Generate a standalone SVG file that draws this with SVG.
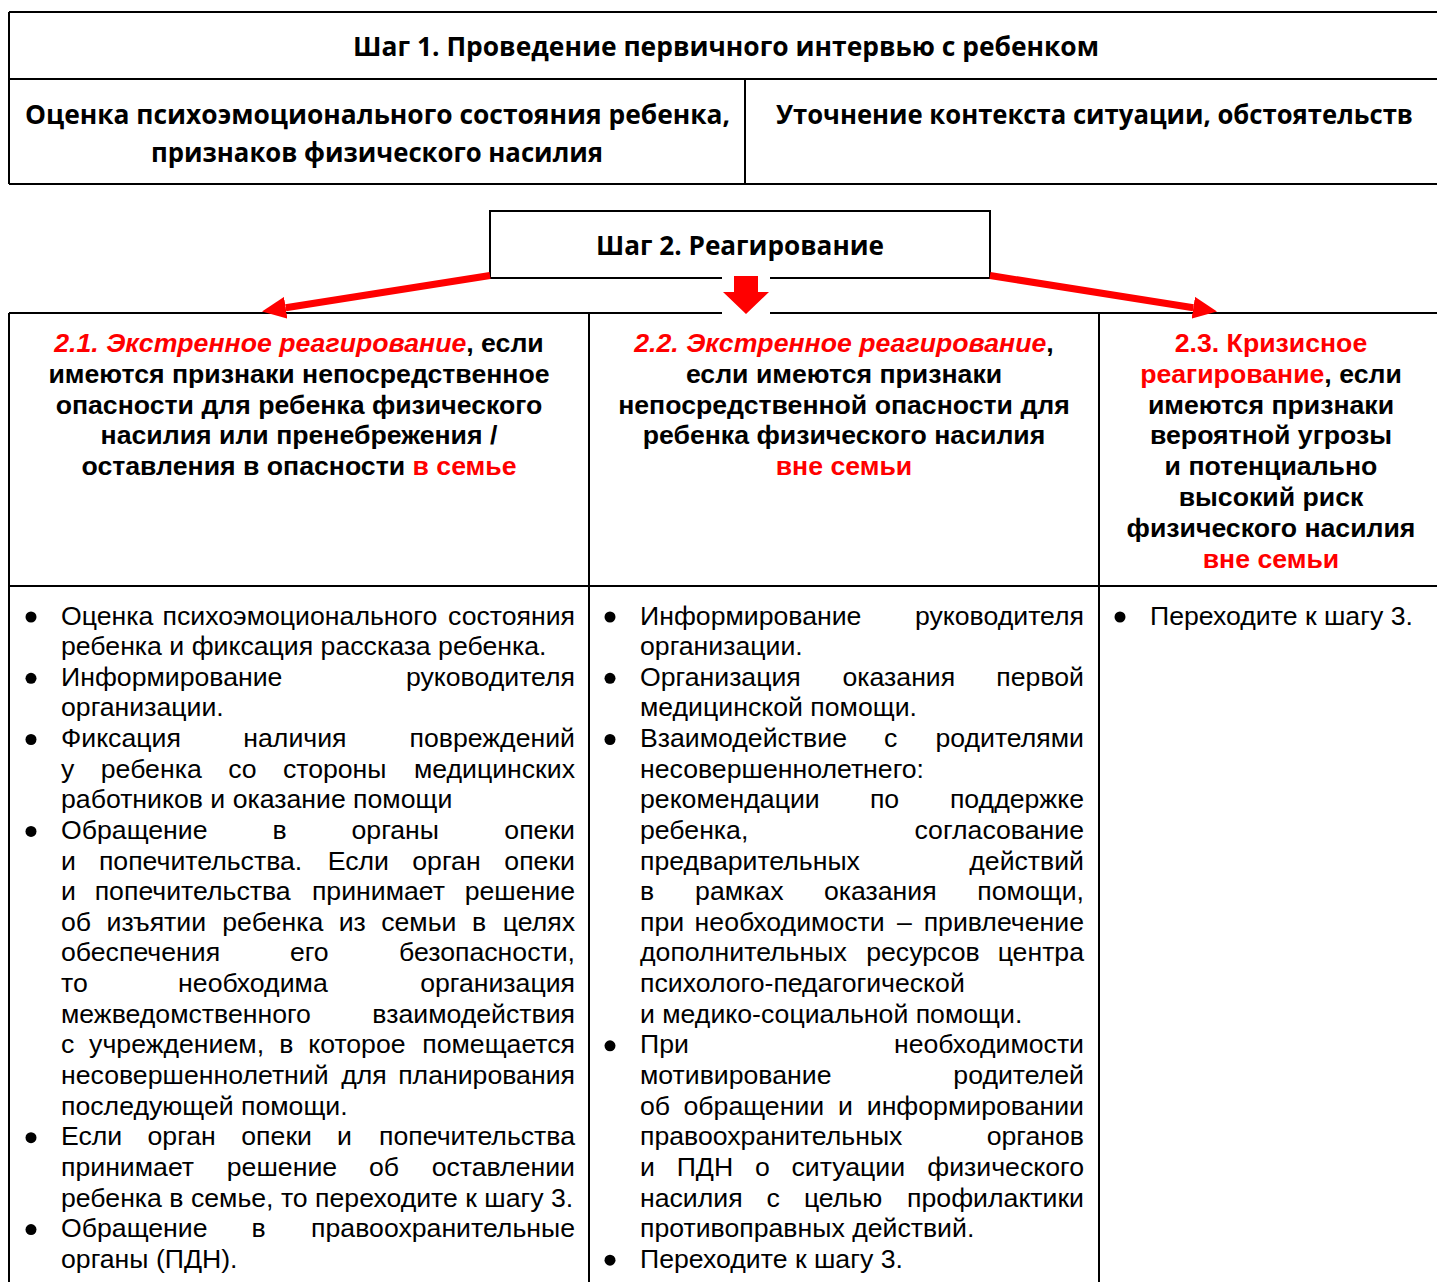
<svg xmlns="http://www.w3.org/2000/svg" width="1437" height="1282" viewBox="0 0 1437 1282">
<defs>
<style>
.ln{stroke:#000;stroke-width:2;fill:none}
.bx{stroke:#000;stroke-width:2;fill:#fff}
.t1{font-family:"Open Sans","Liberation Sans",sans-serif;font-weight:700;font-size:26px;fill:#000;text-anchor:middle}
.hd{font-family:"Liberation Sans",Arial,sans-serif;font-weight:700;font-size:26.67px;fill:#000;text-anchor:middle}
.r{fill:#ff0000}
.i{font-style:italic}
.b{font-family:"Liberation Sans",Arial,sans-serif;font-size:26.67px;fill:#000}
.e{text-anchor:end}
.dot{fill:#000}
.arr{stroke:#ff0000;stroke-width:7;fill:none}
</style>
<marker id="head" markerUnits="userSpaceOnUse" markerWidth="24" markerHeight="22" viewBox="0 0 24 22" refX="0" refY="11" orient="auto">
<path d="M0,0 L24,11 L0,22 z" fill="#ff0000"/>
</marker>
</defs>
<rect width="1437" height="1282" fill="#fff"/>

<g id="step1">
<path class="ln" d="M9,12 H1440 M9,79 H1440 M9,184 H1440 M9,12 V184 M745,79 V184"/>
<text class="t1" x="726" y="56" textLength="746" lengthAdjust="spacingAndGlyphs">Шаг 1. Проведение первичного интервью с ребенком</text>
<g id="step1-assess">
<text class="t1" x="377.5" y="124" textLength="705" lengthAdjust="spacingAndGlyphs">Оценка психоэмоционального состояния ребенка,</text>
<text class="t1" x="377" y="162" textLength="452" lengthAdjust="spacingAndGlyphs">признаков физического насилия</text>
</g>
<g id="step1-context">
<text class="t1" x="1094.5" y="124" textLength="637" lengthAdjust="spacingAndGlyphs">Уточнение контекста ситуации, обстоятельств</text>
</g>
</g>

<g id="step2">
<rect class="bx" x="490" y="211" width="500" height="67"/>
<text class="t1" x="740" y="255" textLength="288" lengthAdjust="spacingAndGlyphs">Шаг 2. Реагирование</text>
</g>

<g id="table">
<path class="ln" d="M9,313 H1440 M9,586 H1440 M9,313 V1290 M589,313 V1290 M1099,313 V1290"/>
</g>

<g id="connectors">
<line class="arr" x1="490" y1="275.5" x2="285.7" y2="307.8" marker-end="url(#head)"/>
<line class="arr" x1="990" y1="275.5" x2="1193.3" y2="307.7" marker-end="url(#head)"/>
<rect x="722" y="274" width="48" height="42" fill="#fff"/>
<path d="M734,276 H758 V292 H769 L746,314 L723,292 H734 z" fill="#ff0000"/>
</g>

<g id="case-2-1">
<text class="hd" x="299" y="352"><tspan class="r i">2.1. Экстренное реагирование</tspan>, если</text>
<text class="hd" x="299" y="382.8">имеются признаки непосредственное</text>
<text class="hd" x="299" y="413.6">опасности для ребенка физического</text>
<text class="hd" x="299" y="444.4">насилия или пренебрежения /</text>
<text class="hd" x="299" y="475.2">оставления в опасности <tspan class="r">в семье</tspan></text>
<g id="steps-2-1">
<circle class="dot" cx="31" cy="617" r="5.5"/>
<circle class="dot" cx="31" cy="678.3" r="5.5"/>
<circle class="dot" cx="31" cy="739.5" r="5.5"/>
<circle class="dot" cx="31" cy="831.4" r="5.5"/>
<circle class="dot" cx="31" cy="1137.7" r="5.5"/>
<circle class="dot" cx="31" cy="1229.6" r="5.5"/>
<text class="b" y="624.5"><tspan x="61">Оценка</tspan> <tspan x="162.6">психоэмоционального</tspan> <tspan x="575" class="e">состояния</tspan></text>
<text class="b" x="61" y="655.1">ребенка и фиксация рассказа ребенка.</text>
<text class="b" y="685.8"><tspan x="61">Информирование</tspan> <tspan x="575" class="e">руководителя</tspan></text>
<text class="b" x="61" y="716.4">организации.</text>
<text class="b" y="747"><tspan x="61">Фиксация</tspan> <tspan x="243.3">наличия</tspan> <tspan x="575" class="e">повреждений</tspan></text>
<text class="b" y="777.7"><tspan x="61">у</tspan> <tspan x="100.8">ребенка</tspan> <tspan x="228.2">со</tspan> <tspan x="282.9">стороны</tspan> <tspan x="575" class="e">медицинских</tspan></text>
<text class="b" x="61" y="808.3">работников и оказание помощи</text>
<text class="b" y="838.9"><tspan x="61">Обращение</tspan> <tspan x="272.6">в</tspan> <tspan x="351.5">органы</tspan> <tspan x="575" class="e">опеки</tspan></text>
<text class="b" y="869.5"><tspan x="61">и</tspan> <tspan x="98.9">попечительства.</tspan> <tspan x="327.7">Если</tspan> <tspan x="412.3">орган</tspan> <tspan x="575" class="e">опеки</tspan></text>
<text class="b" y="900.2"><tspan x="61">и</tspan> <tspan x="94.7">попечительства</tspan> <tspan x="311.9">принимает</tspan> <tspan x="575" class="e">решение</tspan></text>
<text class="b" y="930.8"><tspan x="61">об</tspan> <tspan x="106.5">изъятии</tspan> <tspan x="222.3">ребенка</tspan> <tspan x="338.7">из</tspan> <tspan x="381.2">семьи</tspan> <tspan x="471.9">в</tspan> <tspan x="575" class="e">целях</tspan></text>
<text class="b" y="961.4"><tspan x="61">обеспечения</tspan> <tspan x="289.9">его</tspan> <tspan x="575" class="e">безопасности,</tspan></text>
<text class="b" y="992.1"><tspan x="61">то</tspan> <tspan x="178.1">необходима</tspan> <tspan x="575" class="e">организация</tspan></text>
<text class="b" y="1022.7"><tspan x="61">межведомственного</tspan> <tspan x="575" class="e">взаимодействия</tspan></text>
<text class="b" y="1053.3"><tspan x="61">с</tspan> <tspan x="89.1">учреждением,</tspan> <tspan x="279.2">в</tspan> <tspan x="308.2">которое</tspan> <tspan x="575" class="e">помещается</tspan></text>
<text class="b" y="1084"><tspan x="61">несовершеннолетний</tspan> <tspan x="341.2">для</tspan> <tspan x="575" class="e">планирования</tspan></text>
<text class="b" x="61" y="1114.6">последующей помощи.</text>
<text class="b" y="1145.2"><tspan x="61">Если</tspan> <tspan x="147.5">орган</tspan> <tspan x="241.3">опеки</tspan> <tspan x="336.9">и</tspan> <tspan x="575" class="e">попечительства</tspan></text>
<text class="b" y="1175.8"><tspan x="61">принимает</tspan> <tspan x="226.8">решение</tspan> <tspan x="368.9">об</tspan> <tspan x="575" class="e">оставлении</tspan></text>
<text class="b" x="61" y="1206.5">ребенка в семье, то переходите к шагу 3.</text>
<text class="b" y="1237.1"><tspan x="61">Обращение</tspan> <tspan x="251.5">в</tspan> <tspan x="575" class="e">правоохранительные</tspan></text>
<text class="b" x="61" y="1267.7">органы (ПДН).</text>
</g>
</g>

<g id="case-2-2">
<text class="hd" x="844" y="352"><tspan class="r i">2.2. Экстренное реагирование</tspan>,</text>
<text class="hd" x="844" y="382.8">если имеются признаки</text>
<text class="hd" x="844" y="413.6">непосредственной опасности для</text>
<text class="hd" x="844" y="444.4">ребенка физического насилия</text>
<text class="hd r" x="844" y="475.2">вне семьи</text>
<g id="steps-2-2">
<circle class="dot" cx="610" cy="617" r="5.5"/>
<circle class="dot" cx="610" cy="678.3" r="5.5"/>
<circle class="dot" cx="610" cy="739.5" r="5.5"/>
<circle class="dot" cx="610" cy="1045.8" r="5.5"/>
<circle class="dot" cx="610" cy="1260.2" r="5.5"/>
<text class="b" y="624.5"><tspan x="640">Информирование</tspan> <tspan x="1084" class="e">руководителя</tspan></text>
<text class="b" x="640" y="655.1">организации.</text>
<text class="b" y="685.8"><tspan x="640">Организация</tspan> <tspan x="842.5">оказания</tspan> <tspan x="1084" class="e">первой</tspan></text>
<text class="b" x="640" y="716.4">медицинской помощи.</text>
<text class="b" y="747"><tspan x="640">Взаимодействие</tspan> <tspan x="884">с</tspan> <tspan x="1084" class="e">родителями</tspan></text>
<text class="b" x="640" y="777.7">несовершеннолетнего:</text>
<text class="b" y="808.3"><tspan x="640">рекомендации</tspan> <tspan x="869.9">по</tspan> <tspan x="1084" class="e">поддержке</tspan></text>
<text class="b" y="838.9"><tspan x="640">ребенка,</tspan> <tspan x="1084" class="e">согласование</tspan></text>
<text class="b" y="869.5"><tspan x="640">предварительных</tspan> <tspan x="1084" class="e">действий</tspan></text>
<text class="b" y="900.2"><tspan x="640">в</tspan> <tspan x="695.1">рамках</tspan> <tspan x="823.9">оказания</tspan> <tspan x="1084" class="e">помощи,</tspan></text>
<text class="b" y="930.8"><tspan x="640">при</tspan> <tspan x="694.6">необходимости</tspan> <tspan x="896.9">–</tspan> <tspan x="1084" class="e">привлечение</tspan></text>
<text class="b" y="961.4"><tspan x="640">дополнительных</tspan> <tspan x="866.2">ресурсов</tspan> <tspan x="1084" class="e">центра</tspan></text>
<text class="b" x="640" y="992.1">психолого-педагогической</text>
<text class="b" x="640" y="1022.7">и медико-социальной помощи.</text>
<text class="b" y="1053.3"><tspan x="640">При</tspan> <tspan x="1084" class="e">необходимости</tspan></text>
<text class="b" y="1084"><tspan x="640">мотивирование</tspan> <tspan x="1084" class="e">родителей</tspan></text>
<text class="b" y="1114.6"><tspan x="640">об</tspan> <tspan x="683.5">обращении</tspan> <tspan x="838">и</tspan> <tspan x="1084" class="e">информировании</tspan></text>
<text class="b" y="1145.2"><tspan x="640">правоохранительных</tspan> <tspan x="1084" class="e">органов</tspan></text>
<text class="b" y="1175.8"><tspan x="640">и</tspan> <tspan x="676.7">ПДН</tspan> <tspan x="754.9">о</tspan> <tspan x="791.5">ситуации</tspan> <tspan x="1084" class="e">физического</tspan></text>
<text class="b" y="1206.5"><tspan x="640">насилия</tspan> <tspan x="766.6">с</tspan> <tspan x="803.9">целью</tspan> <tspan x="1084" class="e">профилактики</tspan></text>
<text class="b" x="640" y="1237.1">противоправных действий.</text>
<text class="b" x="640" y="1267.7">Переходите к шагу 3.</text>
</g>
</g>

<g id="case-2-3">
<text class="hd r" x="1271" y="352">2.3. Кризисное</text>
<text class="hd" x="1271" y="382.8"><tspan class="r">реагирование</tspan>, если</text>
<text class="hd" x="1271" y="413.6">имеются признаки</text>
<text class="hd" x="1271" y="444.4">вероятной угрозы</text>
<text class="hd" x="1271" y="475.2">и потенциально</text>
<text class="hd" x="1271" y="506">высокий риск</text>
<text class="hd" x="1271" y="536.8">физического насилия</text>
<text class="hd r" x="1271" y="567.6">вне семьи</text>
<g id="steps-2-3">
<circle class="dot" cx="1120" cy="617" r="5.5"/>
<text class="b" x="1150" y="624.5">Переходите к шагу 3.</text>
</g>
</g>
</svg>
